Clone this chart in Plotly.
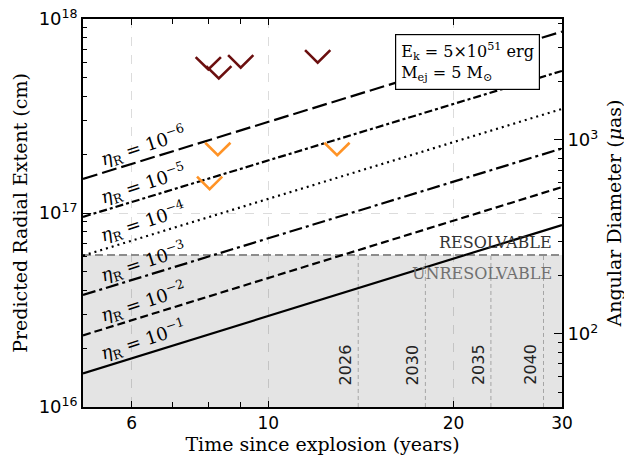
import numpy as np
import plotly.graph_objects as go

# ---------------- data ----------------
eta_exponents = [-1, -2, -3, -4, -5, -6]
t_edges = [5.0, 30.0]                      # years
R_start = [1.49e16, 2.34e16, 3.78e16, 6.03e16, 9.55e16, 1.50e17]   # cm at t=5
R_end = [8.67e16, 1.36e17, 2.15e17, 3.44e17, 5.40e17, 8.61e17]     # cm at t=30

threshold_R = 6.07e16                      # resolvable limit (cm)
R_floor = 1e16
year_labels = [2026, 2030, 2035, 2040]
explosion_year = 2012

dark_t = [7.99, 8.31, 9.02, 12.03]
dark_R = [5.91e17, 5.31e17, 6.05e17, 6.42e17]
orange_t = [8.28, 8.03, 12.93]
orange_R = [2.14e17, 1.43e17, 2.14e17]

x_tick_vals = [6, 10, 20, 30]
y_tick_exps = [16, 17, 18]
y2_tick_exps = [2, 3]
uas_per_cm_at = (1000.0, 2.38e17)          # 1000 micro-arcsec <-> 2.38e17 cm

# ---------------- styles ----------------
line_dashes = {-1: "solid", -2: "8px,4px", -3: "13px,4px,3px,4px",
               -4: "2px,4px", -5: "8px,3px,3px,3px", -6: "15px,5px"}
SERIF = "DejaVu Serif"
SANS = "DejaVu Sans"
V_HALF_W = 0.0205   # decades in x
V_HALF_H = 0.032    # decades in y
EPS = 1e-4          # tiny range padding so edge tick labels are kept

fig = go.Figure()

# shaded unresolvable region
fig.add_trace(go.Scatter(x=[t_edges[0], t_edges[1], t_edges[1], t_edges[0], t_edges[0]],
                         y=[R_floor, R_floor, threshold_R, threshold_R, R_floor],
                         mode="lines", fill="toself", fillcolor="rgba(0,0,0,0.105)",
                         line=dict(width=0), showlegend=False, hoverinfo="skip"))

# year lines
for yr in year_labels:
    tt = yr - explosion_year
    fig.add_trace(go.Scatter(x=[tt, tt], y=[R_floor, threshold_R], mode="lines",
                             line=dict(color="#a5a5a5", width=1, dash="4px,3px"),
                             showlegend=False, hoverinfo="skip"))
    fig.add_annotation(x=np.log10(tt), y=16.102, xref="x", yref="y",
                       text=str(yr), textangle=-90, showarrow=False,
                       xanchor="right", yanchor="bottom", xshift=-1,
                       font=dict(family=SANS, size=16, color="#222"))

# threshold line
fig.add_trace(go.Scatter(x=t_edges, y=[threshold_R, threshold_R], mode="lines",
                         line=dict(color="#8c8c8c", width=2, dash="8px,4px"),
                         showlegend=False, hoverinfo="skip"))

# model lines
for e, r0, r1 in zip(eta_exponents, R_start, R_end):
    fig.add_trace(go.Scatter(x=t_edges, y=[r0, r1], mode="lines",
                             line=dict(color="black", width=2.2, dash=line_dashes[e]),
                             showlegend=False, hoverinfo="skip"))

# upper-limit chevrons
def chevrons(ts, rs):
    xs, ys = [], []
    for t, r in zip(ts, rs):
        xs += [t * 10 ** (-V_HALF_W), t, t * 10 ** V_HALF_W, None]
        ys += [r * 10 ** V_HALF_H, r * 10 ** (-V_HALF_H), r * 10 ** V_HALF_H, None]
    return xs, ys

for ts, rs, col in [(dark_t, dark_R, "#6b0f0f"), (orange_t, orange_R, "#ff9326")]:
    xs, ys = chevrons(ts, rs)
    fig.add_trace(go.Scatter(x=xs, y=ys, mode="lines",
                             line=dict(color=col, width=2.6),
                             showlegend=False, hoverinfo="skip"))

# invisible trace for the right axis
y2_off = np.log10(uas_per_cm_at[0]) - np.log10(uas_per_cm_at[1])
fig.add_trace(go.Scatter(x=[t_edges[0]], y=[uas_per_cm_at[0]], yaxis="y2",
                         mode="markers", marker=dict(opacity=0),
                         showlegend=False, hoverinfo="skip"))

lt = np.log10(threshold_R)
fig.add_annotation(x=1, xref="x domain", y=lt, yref="y", text="RESOLVABLE",
                   showarrow=False, xanchor="right", yanchor="middle",
                   xshift=-8, yshift=13, font=dict(family=SERIF, size=16, color="#333"))
fig.add_annotation(x=1, xref="x domain", y=lt, yref="y", text="UNRESOLVABLE",
                   showarrow=False, xanchor="right", yanchor="middle",
                   xshift=-8, yshift=-18, font=dict(family=SERIF, size=16, color="#707070"))

# eta labels along lines
lab_t = 6.25
for e, r0, r1 in zip(eta_exponents, R_start, R_end):
    frac = (np.log10(lab_t) - np.log10(t_edges[0])) / (np.log10(t_edges[1]) - np.log10(t_edges[0]))
    ly = np.log10(r0) + frac * (np.log10(r1) - np.log10(r0))
    fig.add_annotation(x=np.log10(lab_t), y=ly, xref="x", yref="y",
                       text=f"<i>η</i><sub>R</sub> = 10<sup>−{abs(e)}</sup>",
                       textangle=-18, showarrow=False, yshift=15,
                       font=dict(family=SERIF, size=18, color="black"))

# parameter box
fig.add_annotation(x=0.8027, y=0.888, xref="paper", yref="paper",
                   text="E<sub>k</sub> = 5×10<sup>51</sup> erg<br>M<sub>ej</sub> = 5 M<sub>⊙</sub>",
                   showarrow=False, align="left", xanchor="center", yanchor="middle",
                   bordercolor="black", borderwidth=1.2, borderpad=5, bgcolor="white",
                   font=dict(family=SERIF, size=16, color="black"))

# page body has an 8px margin: figure is 624x448 placed at (8, 8)
fig.update_layout(
    width=624, height=448,
    margin=dict(l=75, r=70, t=11, b=49),
    paper_bgcolor="white", plot_bgcolor="white",
    xaxis=dict(type="log", range=[np.log10(t_edges[0]), np.log10(t_edges[1]) + EPS],
               tickmode="array", tickvals=x_tick_vals, ticktext=[str(v) for v in x_tick_vals],
               ticks="inside", ticklen=6, tickwidth=1.2, tickcolor="black",
               showline=True, linecolor="black", linewidth=1.6, mirror="ticks",
               showgrid=True, gridcolor="#dcdcdc", griddash="dash", gridwidth=1,
               minor=dict(dtick="D1", ticks="inside", ticklen=5,
                          tickcolor="black", tickwidth=1.1, showgrid=False),
               tickfont=dict(family=SANS, size=17, color="black"),
               ticklabeloverflow="allow",
               title=dict(text="Time since explosion (years)", standoff=2,
                          font=dict(family=SERIF, size=19, color="black")),
               automargin=False, zeroline=False),
    yaxis=dict(type="log", range=[16 - EPS, 18 + EPS],
               tickmode="array", tickvals=[10.0 ** p for p in y_tick_exps],
               ticktext=[f"10<sup>{p}</sup>" for p in y_tick_exps],
               ticks="inside", ticklen=8, tickwidth=1.2, tickcolor="black",
               showline=True, linecolor="black", linewidth=1.6, mirror=False,
               showgrid=True, gridcolor="#dcdcdc", griddash="dash", gridwidth=1,
               minor=dict(dtick="D1", ticks="inside", ticklen=4,
                          tickcolor="black", tickwidth=1.1, showgrid=False),
               tickfont=dict(family=SANS, size=18, color="black"),
               ticklabeloverflow="allow",
               title=dict(text="Predicted Radial Extent (cm)", standoff=6,
                          font=dict(family=SERIF, size=19, color="black")),
               automargin=False, zeroline=False),
    yaxis2=dict(type="log", overlaying="y", side="right",
                range=[16 - EPS + y2_off, 18 + EPS + y2_off],
                tickmode="array", tickvals=[10.0 ** p for p in y2_tick_exps],
                ticktext=[f"10<sup>{p}</sup>" for p in y2_tick_exps],
                ticks="inside", ticklen=8, tickwidth=1.2, tickcolor="black",
                showline=True, linecolor="black", linewidth=1.6,
                showgrid=False,
                minor=dict(dtick="D1", ticks="inside", ticklen=4,
                           tickcolor="black", tickwidth=1.1, showgrid=False),
                tickfont=dict(family=SANS, size=18, color="black"),
                ticklabeloverflow="allow",
                title=dict(text="Angular Diameter (<i>μ</i>as)", standoff=10,
                           font=dict(family=SERIF, size=19, color="black")),
                automargin=False, zeroline=False),
    showlegend=False,
)

fig.write_html("out.html")
